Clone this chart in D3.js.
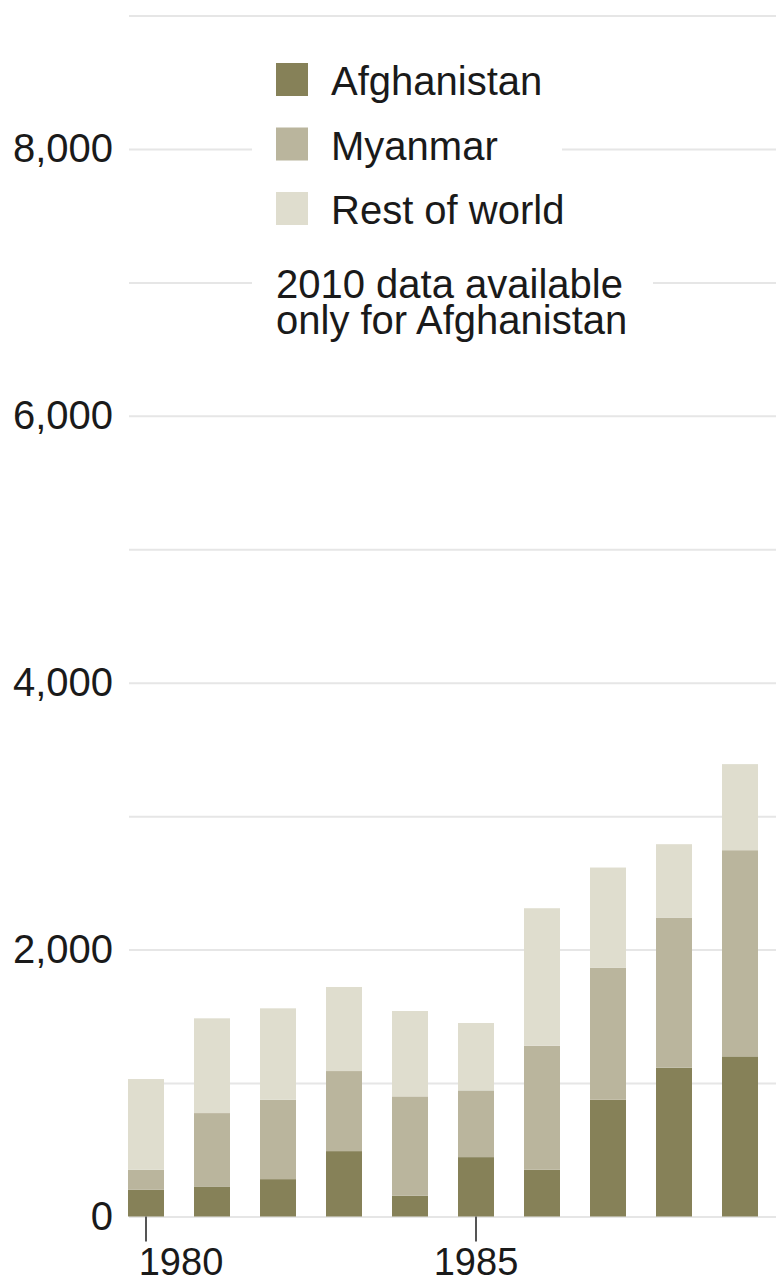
<!DOCTYPE html>
<html lang="en">

<head>
    <meta charset="UTF-8" />
    <script type="text/javascript" src="https://cdn.jsdelivr.net/npm/d3@7"></script>
    <title>Opium production stacked bars</title>
    <style>
        body { margin: 0; background: #fff; }
        svg { display: block; font-family: "Liberation Sans", Arial, sans-serif; }
    </style>
</head>

<body>
    <div id="chart"></div>

    <script type="text/javascript">
        // data (tonnes)
        var years = [1980, 1981, 1982, 1983, 1984, 1985, 1986, 1987, 1988, 1989];
        var afghanistan = [200, 225, 280, 490, 155, 445, 350, 875, 1115, 1200];
        var myanmar = [150, 550, 595, 600, 745, 500, 930, 990, 1125, 1545];
        var restOfWorld = [680, 710, 685, 630, 640, 505, 1030, 750, 550, 645];

        var seriesNames = ["Afghanistan", "Myanmar", "Rest of world"];
        var seriesColors = ["#868158", "#bab59d", "#dfddce"];
        var yLabelTicks = [0, 2000, 4000, 6000, 8000];
        var gridTicks = [0, 1000, 2000, 3000, 4000, 5000, 6000, 7000, 8000, 9000];
        var xTicks = [1980, 1985];
        var noteLines = ["2010 data available", "only for Afghanistan"];

        var width = 776,
            height = 1285;

        var svg = d3.select("#chart")
            .append("svg")
            .attr("width", width)
            .attr("height", height);

        var data = years.map(function (yr, i) {
            return {
                year: yr,
                "Afghanistan": afghanistan[i],
                "Myanmar": myanmar[i],
                "Rest of world": restOfWorld[i]
            };
        });

        var series = d3.stack().keys(seriesNames)(data);

        var color = d3.scaleOrdinal()
            .domain(seriesNames)
            .range(seriesColors);

        var y = d3.scaleLinear()
            .domain([0, 9000])
            .range([1216.5, 15.5]);

        var x = d3.scaleBand()
            .domain(years)
            .range([128, 758])
            .paddingInner(30 / 66)
            .paddingOuter(0);

        var plotLeft = 129;

        // gridlines
        var grid = svg.append("g")
            .attr("transform", `translate(${plotLeft},0)`)
            .call(d3.axisLeft(y).tickValues(gridTicks).tickSize(-(width - plotLeft)).tickFormat(""));
        grid.select(".domain").remove();
        grid.selectAll("line").attr("stroke", "#e6e6e6").attr("stroke-width", 2);

        // y labels
        var yAxis = svg.append("g")
            .attr("transform", `translate(${plotLeft},0)`)
            .call(d3.axisLeft(y).tickValues(yLabelTicks).tickSize(0).tickPadding(16).tickFormat(d3.format(",")));
        yAxis.select(".domain").remove();
        yAxis.selectAll("text")
            .attr("font-family", "Liberation Sans, Arial, sans-serif")
            .attr("font-size", 40)
            .attr("fill", "#1a1a1a");

        // bars
        svg.append("g")
            .selectAll("g")
            .data(series)
            .enter().append("g")
            .attr("fill", function (d) { return color(d.key); })
            .selectAll("rect")
            .data(function (d) { return d; })
            .enter().append("rect")
            .attr("x", function (d) { return x(d.data.year); })
            .attr("y", function (d) { return y(d[1]); })
            .attr("width", x.bandwidth())
            .attr("height", function (d) { return y(d[0]) - y(d[1]); });

        // x axis: only two ticks
        var xAxis = svg.append("g")
            .attr("transform", `translate(0,${y(0)})`)
            .call(d3.axisBottom(x).tickValues(xTicks).tickSize(25).tickPadding(7));
        xAxis.select(".domain").remove();
        xAxis.selectAll("line").attr("stroke", "#555").attr("stroke-width", 2);
        xAxis.selectAll("text")
            .attr("font-family", "Liberation Sans, Arial, sans-serif")
            .attr("font-size", 38)
            .attr("fill", "#1a1a1a")
            .attr("dx", function (d) { return d === 1980 ? 35 : 0; });

        // legend on white boxes that break the gridlines
        svg.append("rect")
            .attr("x", 252).attr("y", 45)
            .attr("width", 310).attr("height", 195)
            .attr("fill", "#fff");
        svg.append("rect")
            .attr("x", 252).attr("y", 252)
            .attr("width", 401).attr("height", 95)
            .attr("fill", "#fff");

        var legend = svg.selectAll(".legend")
            .data(seriesNames)
            .enter().append("g")
            .attr("class", "legend")
            .attr("transform", function (d, i) { return "translate(276," + (63 + i * 64.5) + ")"; });

        legend.append("rect")
            .attr("width", 32)
            .attr("height", 33)
            .attr("fill", function (d) { return color(d); });

        legend.append("text")
            .attr("x", 55)
            .attr("y", 32)
            .attr("font-size", 40)
            .attr("fill", "#1a1a1a")
            .text(function (d) { return d; });

        // note under the legend, tight leading as in the original
        svg.append("text")
            .attr("font-size", 40)
            .attr("fill", "#1a1a1a")
            .selectAll("tspan")
            .data(noteLines)
            .enter().append("tspan")
            .attr("x", 276)
            .attr("y", function (d, i) { return 298 + i * 36; })
            .text(function (d) { return d; });
    </script>
</body>

</html>
